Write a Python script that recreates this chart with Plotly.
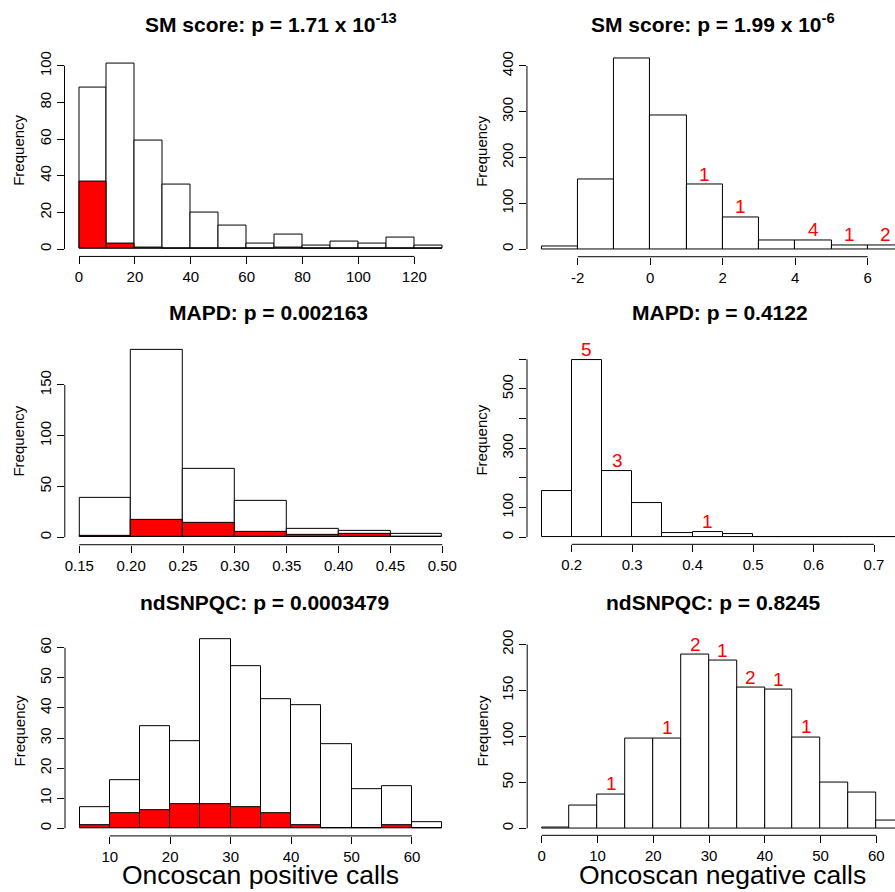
import plotly.graph_objects as go

W, H = 895, 892
FONT = "Liberation Sans"

# ---------------- data ----------------
sm_pos_breaks = [0, 10, 20, 30, 40, 50, 60, 70, 80, 90, 100, 110, 120, 130]
sm_pos_total = [88, 101, 59, 35, 20, 13, 3, 8, 2, 4, 3, 6, 2]
sm_pos_red = [37, 3, 1, 0, 0, 0, 0, 1, 0, 0, 0, 0, 0]

sm_neg_breaks = [-3, -2, -1, 0, 1, 2, 3, 4, 5, 6, 7]
sm_neg_total = [6, 152, 417, 292, 141, 69, 19, 19, 8, 8]
sm_neg_labels = [0, 0, 0, 0, 1, 1, 0, 4, 1, 2]

mapd_pos_breaks = [0.15, 0.20, 0.25, 0.30, 0.35, 0.40, 0.45, 0.50]
mapd_pos_total = [39, 185, 67, 36, 8, 6, 3]
mapd_pos_red = [1, 17, 14, 5, 2, 3, 0]

mapd_neg_breaks = [0.15, 0.20, 0.25, 0.30, 0.35, 0.40, 0.45, 0.50, 0.55, 0.60, 0.65, 0.70, 0.75]
mapd_neg_total = [155, 597, 223, 115, 15, 17, 11, 2, 2, 1, 1, 1]
mapd_neg_labels = [0, 5, 3, 0, 0, 1, 0, 0, 0, 0, 0, 0]

snp_pos_breaks = [5, 10, 15, 20, 25, 30, 35, 40, 45, 50, 55, 60, 65]
snp_pos_total = [7, 16, 34, 29, 63, 54, 43, 41, 28, 13, 14, 2]
snp_pos_red = [1, 5, 6, 8, 8, 7, 5, 1, 0, 0, 1, 0]

snp_neg_breaks = [0, 5, 10, 15, 20, 25, 30, 35, 40, 45, 50, 55, 60, 65]
snp_neg_total = [1, 25, 37, 98, 98, 189, 182, 153, 151, 99, 50, 39, 8]
snp_neg_labels = [0, 0, 1, 0, 1, 2, 1, 2, 1, 1, 0, 0, 0]

# tick labels
sm_pos_xticks = [0, 20, 40, 60, 80, 100, 120]
sm_pos_yticks = [0, 20, 40, 60, 80, 100]
sm_neg_xticks = [-2, 0, 2, 4, 6]
sm_neg_xtext = ["-2", "0", "2", "4", "6"]
sm_neg_yticks = [0, 100, 200, 300, 400]
mapd_pos_xticks = [0.15, 0.20, 0.25, 0.30, 0.35, 0.40, 0.45, 0.50]
mapd_pos_xtext = ["0.15", "0.20", "0.25", "0.30", "0.35", "0.40", "0.45", "0.50"]
mapd_pos_yticks = [0, 50, 100, 150]
mapd_neg_xticks = [0.2, 0.3, 0.4, 0.5, 0.6, 0.7]
mapd_neg_xtext = ["0.2", "0.3", "0.4", "0.5", "0.6", "0.7"]
mapd_neg_yticks = [0, 100, 300, 500]
mapd_neg_yminor = [200, 400, 600]
snp_pos_xticks = [10, 20, 30, 40, 50, 60]
snp_pos_yticks = [0, 10, 20, 30, 40, 50, 60]
snp_neg_xticks = [0, 10, 20, 30, 40, 50, 60]
snp_neg_yticks = [0, 50, 100, 150, 200]

titles = [
    "SM score: p = 1.71 x 10<sup>-13</sup>",
    "SM score: p = 1.99 x 10<sup>-6</sup>",
    "MAPD: p = 0.002163",
    "MAPD: p = 0.4122",
    "ndSNPQC: p = 0.0003479",
    "ndSNPQC: p = 0.8245",
]
xlabels = ["Oncoscan positive calls", "Oncoscan negative calls"]

# ---------------- panel layout (pixel geometry, in target-image pixels) ----------------
panels = [
    dict(breaks=sm_pos_breaks, total=sm_pos_total, red=sm_pos_red, labels=None,
         xt=sm_pos_xticks, xtt=None, yt=sm_pos_yticks, ymin=None,
         xr=[-5.2, 135.2], xpx=[64.5, 456.8], yr=[-4.04, 105.04], ypx=[55.7, 255.7],
         tpos=(271, 22), ylab=(19, 150)),
    dict(breaks=sm_neg_breaks, total=sm_neg_total, red=None, labels=sm_neg_labels,
         xt=sm_neg_xticks, xtt=sm_neg_xtext, yt=sm_neg_yticks, ymin=None,
         xr=[-3.4, 6.753], xpx=[526.95, 895], yr=[-16.68, 433.68], ypx=[49.6, 256.0],
         tpos=(713, 22), ylab=(482, 151)),
    dict(breaks=mapd_pos_breaks, total=mapd_pos_total, red=mapd_pos_red, labels=None,
         xt=mapd_pos_xticks, xtt=mapd_pos_xtext, yt=mapd_pos_yticks, ymin=None,
         xr=[0.136, 0.514], xpx=[64.8, 456.8], yr=[-7.4, 192.4], ypx=[341.2, 544.2],
         tpos=(268, 312), ylab=(19, 441)),
    dict(breaks=mapd_neg_breaks, total=mapd_neg_total, red=None, labels=mapd_neg_labels,
         xt=mapd_neg_xticks, xtt=mapd_neg_xtext, yt=mapd_neg_yticks, ymin=mapd_neg_yminor,
         xr=[0.126, 0.7347], xpx=[527.0, 895], yr=[-23.88, 620.88], ypx=[352.4, 543.8],
         tpos=(720, 312), ylab=(482, 440)),
    dict(breaks=snp_pos_breaks, total=snp_pos_total, red=snp_pos_red, labels=None,
         xt=snp_pos_xticks, xtt=None, yt=snp_pos_yticks, ymin=None,
         xr=[2.6, 67.4], xpx=[65.0, 456.7], yr=[-2.52, 65.52], ypx=[630.7, 835.6],
         tpos=(264, 602), ylab=(19, 731)),
    dict(breaks=snp_neg_breaks, total=snp_neg_total, red=None, labels=snp_neg_labels,
         xt=snp_neg_xticks, xtt=None, yt=snp_neg_yticks, ymin=None,
         xr=[-2.6, 63.35], xpx=[527.2, 895], yr=[-7.56, 201], ypx=[643.1, 835.0],
         tpos=(713, 602), ylab=(482, 731)),
]
xlab_pos = [(260, 875), (722, 875)]

# observed vertical mapping of the capture: shown_y = 13.1 + 0.985 * page_y
Y_OFF, Y_SCALE = 13.1, 0.985

fig = go.Figure()
shapes = []
annotations = []
layout = {}


def px_x(v):
    return v / W


def px_y(v):
    page = (v - Y_OFF) / Y_SCALE
    return 1 - page / H


for i, p in enumerate(panels):
    n = i + 1
    xa = "x" if n == 1 else f"x{n}"
    ya = "y" if n == 1 else f"y{n}"
    b = p["breaks"]
    centers = [(b[k] + b[k + 1]) / 2 for k in range(len(b) - 1)]
    widths = [b[k + 1] - b[k] for k in range(len(b) - 1)]

    fig.add_trace(go.Bar(x=centers, y=p["total"], width=widths, xaxis=xa, yaxis=ya,
                         marker=dict(color="white", line=dict(color="black", width=1)),
                         showlegend=False, hoverinfo="skip"))
    if p["red"] is not None:
        fig.add_trace(go.Bar(x=centers, y=p["red"], width=widths, xaxis=xa, yaxis=ya,
                             marker=dict(color="#ff0000", line=dict(color="black", width=1)),
                             showlegend=False, hoverinfo="skip"))
    if p["labels"] is not None:
        for c_, t_, l_ in zip(centers, p["total"], p["labels"]):
            if l_:
                annotations.append(dict(x=c_, y=t_, xref=xa, yref=ya, text=str(l_),
                                        showarrow=False, yanchor="bottom", xanchor="center",
                                        yshift=-2,
                                        font=dict(family=FONT, size=19, color="#ff0000")))

    xd = [px_x(p["xpx"][0]), min(1.0, px_x(p["xpx"][1]))]
    yd = [px_y(p["ypx"][1]), px_y(p["ypx"][0])]
    axis_common = dict(showgrid=False, zeroline=False, showline=False, ticks="outside",
                       ticklen=7, tickwidth=1, tickcolor="black",
                       tickfont=dict(family=FONT, size=15, color="black"), fixedrange=True)
    xkw = dict(axis_common, domain=xd, range=p["xr"], anchor=ya, tickmode="array",
               tickvals=p["xt"])
    if p["xtt"]:
        xkw["ticktext"] = p["xtt"]
    ykw = dict(axis_common, domain=yd, range=p["yr"], anchor=xa, tickmode="array",
               tickvals=p["yt"], tickangle=-90)
    ytop = p["yt"][-1]
    if p["ymin"]:
        ykw["minor"] = dict(tickmode="array", tickvals=p["ymin"], ticks="outside",
                            ticklen=7, tickwidth=1, tickcolor="black", showgrid=False)
        ytop = max(ytop, max(p["ymin"]))
    layout["xaxis" if n == 1 else f"xaxis{n}"] = xkw
    layout["yaxis" if n == 1 else f"yaxis{n}"] = ykw

    # R-style axis lines spanning first..last tick
    fx = (p["xpx"][1] - p["xpx"][0]) / W / (p["xr"][1] - p["xr"][0])
    fy = (yd[1] - yd[0]) / (p["yr"][1] - p["yr"][0])
    shapes.append(dict(type="line", xref="paper", yref="paper",
                       x0=xd[0] + (p["xt"][0] - p["xr"][0]) * fx,
                       x1=xd[0] + (p["xt"][-1] - p["xr"][0]) * fx,
                       y0=yd[0], y1=yd[0], line=dict(color="black", width=1)))
    shapes.append(dict(type="line", xref="paper", yref="paper",
                       x0=xd[0], x1=xd[0],
                       y0=yd[0] + (p["yt"][0] - p["yr"][0]) * fy,
                       y1=yd[0] + (ytop - p["yr"][0]) * fy,
                       line=dict(color="black", width=1)))

    annotations.append(dict(x=px_x(p["tpos"][0]), y=px_y(p["tpos"][1]), xref="paper", yref="paper",
                            text="<b>" + titles[i] + "</b>", showarrow=False,
                            xanchor="center", yanchor="middle",
                            font=dict(family=FONT, size=21, color="black")))
    annotations.append(dict(x=px_x(p["ylab"][0]), y=px_y(p["ylab"][1]), xref="paper", yref="paper",
                            text="Frequency", showarrow=False, textangle=-90,
                            xanchor="center", yanchor="middle",
                            font=dict(family=FONT, size=15, color="black")))

for t, (xp, yp) in zip(xlabels, xlab_pos):
    annotations.append(dict(x=px_x(xp), y=px_y(yp), xref="paper", yref="paper", text=t,
                            showarrow=False, xanchor="center", yanchor="middle",
                            font=dict(family=FONT, size=26.5, color="black")))

fig.update_layout(**layout)
fig.update_layout(width=W, height=H, margin=dict(l=0, r=0, t=0, b=0),
                  paper_bgcolor="white", plot_bgcolor="white", barmode="overlay",
                  bargap=0, shapes=shapes, annotations=annotations, hovermode=False,
                  font=dict(family=FONT, color="black"))

fig.write_html("out.html", config={"displayModeBar": False},
               post_script="document.body.style.margin='0';document.body.style.overflow='hidden';")
